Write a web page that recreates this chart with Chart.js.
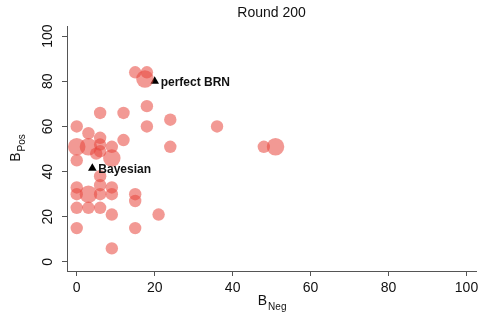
<!DOCTYPE html>
<html>
<head>
<meta charset="utf-8">
<script src="https://cdn.jsdelivr.net/npm/chart.js@4.4.1/dist/chart.umd.min.js"></script>
<style>
  html, body { margin: 0; padding: 0; background: #fff; }
  canvas { display: block; }
</style>
</head>
<body>
<canvas id="chart" width="485" height="321"></canvas>
<script>
// Round 200 - agent beliefs
const chartTitle = "Round 200";

// B_Neg / B_Pos of each agent cluster, and how many agents sit there
const negVals = [15, 18, 17.5, 18, 6, 12, 24, 0, 18, 36, 3, 6, 12, 0, 3, 6, 9, 24, 48, 51, 6, 0, 5, 9,
                 6, 6, 0, 0, 3, 6, 9, 9, 15, 15, 0, 3, 6, 9, 21, 0, 15, 9];
const posVals = [84, 84, 81, 69, 66, 66, 63, 60, 60, 60, 57, 55, 54, 51, 51, 52, 51, 51, 51, 51, 49, 45, 48, 46,
                 38, 34, 33, 30, 30, 30, 33, 30, 30, 27, 24, 24, 24, 21, 21, 15, 15, 6];
const counts  = [1, 1, 2, 1, 1, 1, 1, 1, 1, 1, 1, 1, 1, 2, 2, 1, 1, 1, 1, 2, 1, 1, 1, 2,
                 1, 1, 1, 1, 2, 1, 1, 1, 1, 1, 1, 1, 1, 1, 1, 1, 1, 1];

// reference strategies
const refNames = ["perfect BRN", "Bayesian"];
const refNeg = [20, 4];
const refPos = [80, 41.5];

const tickVals = [0, 20, 40, 60, 80, 100];

const FONT = "'Liberation Sans', Arial, Helvetica, sans-serif";
const AXIS = "#555";

function subTitle(ctx, main, sub, x, y, rotate) {
  ctx.save();
  ctx.translate(x, y);
  if (rotate) ctx.rotate(-Math.PI / 2);
  ctx.fillStyle = "#111";
  ctx.textBaseline = "alphabetic";
  ctx.font = "14px " + FONT;
  const w1 = ctx.measureText(main).width;
  ctx.font = "10px " + FONT;
  const w2 = ctx.measureText(sub).width;
  const start = -(w1 + w2) / 2;
  ctx.font = "14px " + FONT;
  ctx.textAlign = "left";
  ctx.fillText(main, start, 5);
  ctx.font = "10px " + FONT;
  ctx.fillText(sub, start + w1 + 1, 10);
  ctx.restore();
}

const textPlugin = {
  id: "texts",
  afterDatasetsDraw(chart) {
    const ctx = chart.ctx;
    const area = chart.chartArea;
    const xs = chart.scales.x, ys = chart.scales.y;

    ctx.save();
    ctx.fillStyle = "#111";
    ctx.font = "14px " + FONT;
    ctx.textAlign = "center";
    ctx.textBaseline = "middle";
    ctx.fillText(chartTitle, (area.left + area.right) / 2, 13);

    ctx.font = "bold 12px " + FONT;
    ctx.textAlign = "left";
    refNames.forEach((name, i) => {
      ctx.fillText(name, xs.getPixelForValue(refNeg[i]) + 6, ys.getPixelForValue(refPos[i]) + 1);
    });
    ctx.restore();

    subTitle(ctx, "B", "Neg", (area.left + area.right) / 2, 300, false);
    subTitle(ctx, "B", "Pos", 15, (area.top + area.bottom) / 2, true);
  }
};

new Chart(document.getElementById("chart").getContext("2d"), {
  type: "scatter",
  data: {
    datasets: [
      {
        label: "agents",
        data: negVals.map((x, i) => ({ x: x, y: posVals[i] })),
        pointRadius: counts.map(c => 6.2 * Math.sqrt(c)),
        pointBackgroundColor: "rgba(232, 70, 60, 0.55)",
        pointBorderWidth: 0,
      },
      {
        label: "reference",
        data: refNeg.map((x, i) => ({ x: x, y: refPos[i] })),
        pointStyle: "triangle",
        pointRadius: 5,
        pointBackgroundColor: "#000",
        pointBorderColor: "#000",
        pointBorderWidth: 0,
      },
    ],
  },
  options: {
    responsive: false,
    animation: false,
    layout: { padding: { top: 26, right: 5, left: 0, bottom: 0 } },
    plugins: {
      legend: { display: false },
      tooltip: { enabled: false },
    },
    scales: {
      x: {
        type: "linear",
        min: -2.5,
        max: 102.5,
        afterBuildTicks: s => { s.ticks = tickVals.map(v => ({ value: v })); },
        afterFit: s => { s.height = 50; },
        grid: { display: true, drawOnChartArea: false, drawTicks: true, tickLength: 5, tickColor: AXIS },
        border: { display: true, color: AXIS, width: 1 },
        ticks: { color: "#111", font: { family: FONT, size: 14 }, padding: 4, maxRotation: 0 },
      },
      y: {
        type: "linear",
        min: -4,
        max: 104.5,
        afterBuildTicks: s => { s.ticks = tickVals.map(v => ({ value: v })); },
        afterFit: s => { s.width = 67; },
        grid: { display: true, drawOnChartArea: false, drawTicks: true, tickLength: 5, tickColor: AXIS },
        border: { display: true, color: AXIS, width: 1 },
        ticks: {
          color: "#111",
          font: { family: FONT, size: 14 },
          padding: 2,
          minRotation: 90,
          maxRotation: 90,
          crossAlign: "center",
        },
      },
    },
  },
  plugins: [textPlugin],
});
</script>
</body>
</html>
